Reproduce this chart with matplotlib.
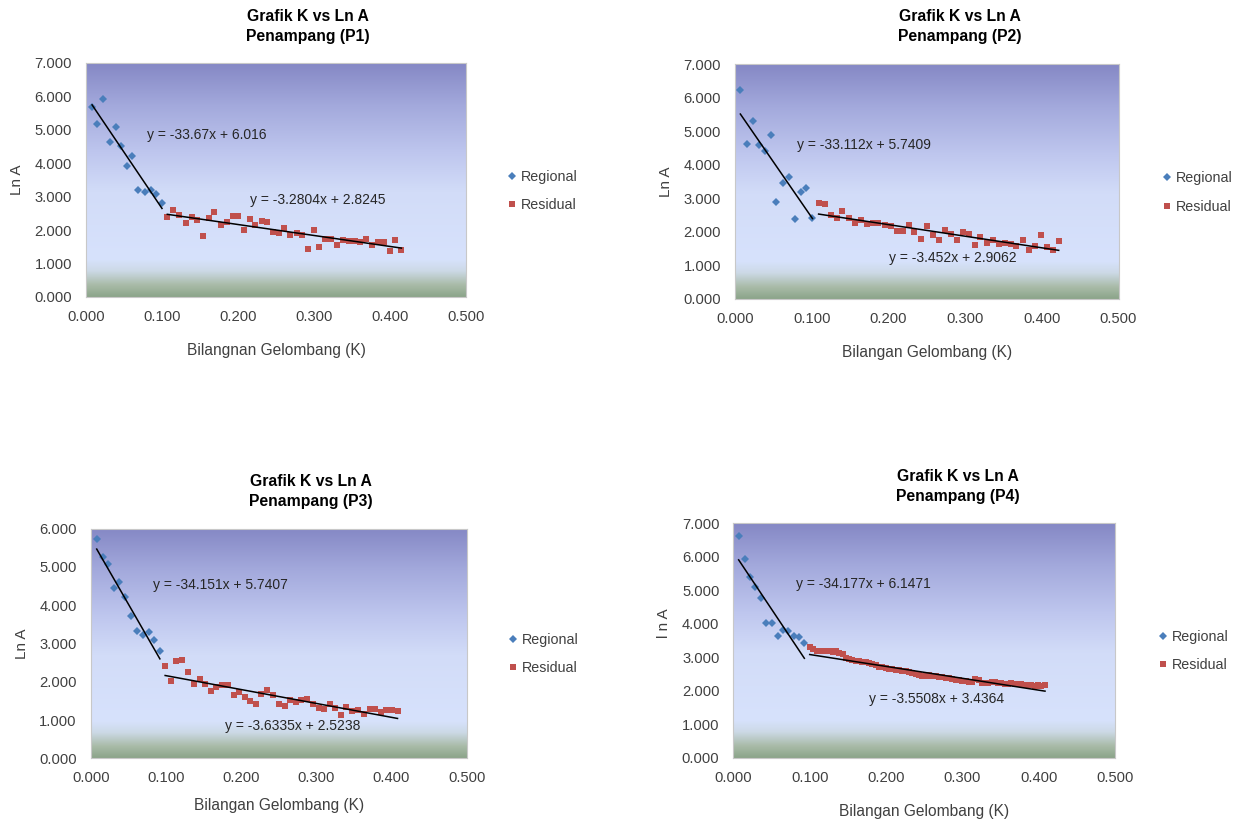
"""Plot K vs Ln A spectral analysis for four cross sections (P1-P4)."""

import matplotlib.pyplot as plt
import numpy as np
from matplotlib.colors import to_rgb

plt.rcParams["font.family"] = ["Liberation Sans", "DejaVu Sans"]

# ---- P1 -------------------------------------------------------------------
p1_reg_k = [0.008, 0.015, 0.023, 0.031, 0.039, 0.046, 0.054, 0.061, 0.069,
            0.077, 0.085, 0.092, 0.100]
p1_reg_lna = [5.68, 5.19, 5.93, 4.64, 5.09, 4.51, 3.91, 4.22, 3.19,
              3.15, 3.19, 3.09, 2.80]
p1_res_k = [0.107, 0.115, 0.123, 0.131, 0.139, 0.146, 0.154, 0.162, 0.169,
            0.177, 0.185, 0.193, 0.200, 0.208, 0.216, 0.223, 0.231, 0.238,
            0.246, 0.254, 0.261, 0.269, 0.277, 0.284, 0.292, 0.300, 0.307,
            0.315, 0.323, 0.330, 0.338, 0.346, 0.354, 0.361, 0.369, 0.376,
            0.384, 0.392, 0.400, 0.407, 0.415]
p1_res_lna = [2.40, 2.60, 2.46, 2.20, 2.38, 2.30, 1.82, 2.35, 2.55,
              2.15, 2.24, 2.41, 2.41, 2.00, 2.33, 2.14, 2.27, 2.23,
              1.94, 1.91, 2.06, 1.86, 1.91, 1.85, 1.45, 1.99, 1.49,
              1.75, 1.75, 1.55, 1.71, 1.69, 1.69, 1.65, 1.73, 1.55,
              1.65, 1.65, 1.38, 1.72, 1.42]

# ---- P2 -------------------------------------------------------------------
p2_reg_k = [0.007, 0.015, 0.023, 0.031, 0.039, 0.047, 0.054, 0.062, 0.070,
            0.078, 0.086, 0.093, 0.101]
p2_reg_lna = [6.22, 4.63, 5.30, 4.58, 4.40, 4.88, 2.89, 3.47, 3.62,
              2.37, 3.19, 3.32, 2.41]
p2_res_k = [0.109, 0.117, 0.125, 0.133, 0.140, 0.148, 0.156, 0.164, 0.172,
            0.180, 0.187, 0.195, 0.203, 0.211, 0.219, 0.227, 0.234, 0.242,
            0.250, 0.258, 0.266, 0.274, 0.281, 0.289, 0.297, 0.305, 0.313,
            0.320, 0.328, 0.336, 0.344, 0.352, 0.360, 0.367, 0.375, 0.383,
            0.391, 0.399, 0.407, 0.414, 0.422]
p2_res_lna = [2.87, 2.83, 2.49, 2.41, 2.62, 2.41, 2.26, 2.34, 2.23,
              2.26, 2.25, 2.21, 2.16, 2.04, 2.03, 2.21, 2.01, 1.80,
              2.16, 1.91, 1.76, 2.07, 1.93, 1.75, 2.00, 1.93, 1.60,
              1.86, 1.68, 1.75, 1.63, 1.66, 1.65, 1.59, 1.75, 1.45,
              1.59, 1.91, 1.55, 1.46, 1.72]

# ---- P3 -------------------------------------------------------------------
p3_reg_k = [0.008, 0.016, 0.023, 0.031, 0.038, 0.046, 0.054, 0.061, 0.069,
            0.077, 0.084, 0.092]
p3_reg_lna = [5.72, 5.25, 5.09, 4.46, 4.60, 4.22, 3.71, 3.33, 3.21,
              3.30, 3.10, 2.80]
p3_res_k = [0.099, 0.107, 0.114, 0.122, 0.129, 0.137, 0.145, 0.152, 0.160,
            0.167, 0.175, 0.182, 0.190, 0.197, 0.205, 0.212, 0.220, 0.227,
            0.235, 0.242, 0.250, 0.258, 0.265, 0.273, 0.280, 0.288, 0.295,
            0.303, 0.310, 0.318, 0.325, 0.333, 0.340, 0.348, 0.355, 0.363,
            0.371, 0.378, 0.386, 0.393, 0.401, 0.408]
p3_res_lna = [2.40, 2.02, 2.53, 2.57, 2.26, 1.95, 2.06, 1.95, 1.77,
              1.86, 1.91, 1.91, 1.66, 1.72, 1.60, 1.51, 1.43, 1.68,
              1.79, 1.65, 1.41, 1.36, 1.52, 1.46, 1.52, 1.55, 1.41,
              1.32, 1.30, 1.42, 1.32, 1.14, 1.33, 1.23, 1.26, 1.17,
              1.30, 1.28, 1.20, 1.26, 1.26, 1.24]

# ---- P4 -------------------------------------------------------------------
p4_reg_k = [0.007, 0.015, 0.022, 0.029, 0.036, 0.043, 0.051, 0.058, 0.065,
            0.072, 0.079, 0.086, 0.093]
p4_reg_lna = [6.62, 5.94, 5.40, 5.10, 4.77, 4.02, 4.01, 3.63, 3.81,
              3.78, 3.62, 3.60, 3.42]
p4_res_k = [0.100, 0.104, 0.109, 0.113, 0.117, 0.122, 0.126, 0.130, 0.135,
            0.139, 0.143, 0.148, 0.152, 0.156, 0.161, 0.165, 0.169, 0.174,
            0.178, 0.182, 0.187, 0.191, 0.195, 0.200, 0.204, 0.208, 0.213,
            0.217, 0.221, 0.226, 0.230, 0.234, 0.239, 0.243, 0.247, 0.252,
            0.256, 0.260, 0.265, 0.269, 0.273, 0.278, 0.282, 0.286, 0.291,
            0.295, 0.299, 0.304, 0.308, 0.312, 0.317, 0.321, 0.325, 0.330,
            0.334, 0.338, 0.343, 0.347, 0.351, 0.356, 0.360, 0.364, 0.369,
            0.373, 0.377, 0.382, 0.386, 0.390, 0.395, 0.399, 0.403, 0.408]
p4_res_lna = [3.30, 3.25, 3.20, 3.18, 3.20, 3.19, 3.20, 3.17, 3.18,
              3.12, 3.10, 2.98, 2.95, 2.92, 2.90, 2.90, 2.86, 2.85,
              2.84, 2.80, 2.76, 2.72, 2.70, 2.68, 2.66, 2.64, 2.62,
              2.62, 2.60, 2.58, 2.56, 2.52, 2.50, 2.46, 2.44, 2.45,
              2.46, 2.44, 2.45, 2.42, 2.40, 2.38, 2.37, 2.35, 2.33,
              2.31, 2.30, 2.28, 2.27, 2.25, 2.36, 2.32, 2.22, 2.24,
              2.24, 2.26, 2.25, 2.24, 2.22, 2.21, 2.20, 2.22, 2.20,
              2.20, 2.19, 2.18, 2.16, 2.18, 2.14, 2.17, 2.13, 2.16]

# Linear trendlines (slope, intercept) for regional / residual
reg_fits = [(-33.67, 6.016), (-33.112, 5.7409), (-34.151, 5.7407), (-34.177, 6.1471)]
res_fits = [(-3.2804, 2.8245), (-3.452, 2.9062), (-3.6335, 2.5238), (-3.5508, 3.4364)]
reg_labels = ["y = -33.67x + 6.016", "y = -33.112x + 5.7409",
              "y = -34.151x + 5.7407", "y = -34.177x + 6.1471"]
res_labels = ["y = -3.2804x + 2.8245", "y = -3.452x + 2.9062",
              "y = -3.6335x + 2.5238", "y = -3.5508x + 3.4364"]
section_names = ["P1", "P2", "P3", "P4"]
x_labels = ["Bilangnan Gelombang (K)", "Bilangan Gelombang (K)",
            "Bilangan Gelombang (K)", "Bilangan Gelombang (K)"]
y_labels = ["Ln A", "Ln A", "Ln A", "l n A"]
y_max = [7, 7, 6, 7]

FIG_W, FIG_H = 1233, 823
# pixel boxes: left, right, top, bottom
panel_boxes = [(86, 466, 63, 297), (735, 1118.5, 64, 299),
               (90.7, 466.7, 528.7, 758.3), (733.3, 1115.3, 523.3, 757.7)]
title_pos = [(308, 26.5), (960, 26.5), (311, 491.5), (958, 486.5)]
legend_pos = [(507.8, 191), (1162.8, 192.5), (508.8, 654), (1158.8, 651)]
reg_text_pos = [(0.1605, 0.692), (0.162, 0.655), (0.166, 0.755), (0.164, 0.741)]
res_text_pos = [(0.4316, 0.4145), (0.402, 0.1745), (0.357, 0.141), (0.355, 0.2505)]
ylabel_y = [0.5, 0.5, 0.5, 0.575]
xlabel_drop = [54, 53, 47, 54]

REG_COLOR = "#4A7EBB"
RES_COLOR = "#C0504D"
TEXT_COLOR = "#404040"

# Excel-like plot area fill: purple-blue top, pale blue middle, grey-green bottom
grad_stops = [0.0, 0.05, 0.11, 0.16, 0.45, 0.62, 0.82, 1.0]
grad_colors = ["#8CA58A", "#A9BBA8", "#CCD9E6", "#D7E2FC", "#D2DCF8",
               "#BEC6EE", "#A3A9DC", "#8588C5"]
levels = np.linspace(0, 1, 256)
rgb = np.array([to_rgb(c) for c in grad_colors])
gradient = np.stack([np.interp(levels, grad_stops, rgb[:, i]) for i in range(3)], axis=-1)
gradient = gradient[::-1, np.newaxis, :]

all_reg = [(p1_reg_k, p1_reg_lna), (p2_reg_k, p2_reg_lna),
           (p3_reg_k, p3_reg_lna), (p4_reg_k, p4_reg_lna)]
all_res = [(p1_res_k, p1_res_lna), (p2_res_k, p2_res_lna),
           (p3_res_k, p3_res_lna), (p4_res_k, p4_res_lna)]

fig = plt.figure(figsize=(FIG_W / 100, FIG_H / 100), dpi=100)

for i in range(4):
    left, right, top, bottom = panel_boxes[i]
    ax = fig.add_axes([left / FIG_W, 1 - bottom / FIG_H,
                       (right - left) / FIG_W, (bottom - top) / FIG_H])
    ax.imshow(gradient, extent=[0, 1, 0, 1], transform=ax.transAxes,
              aspect="auto", zorder=0)

    reg_k, reg_lna = all_reg[i]
    res_k, res_lna = all_res[i]
    ax.plot(reg_k, reg_lna, "D", color=REG_COLOR, markersize=3.8,
            markeredgewidth=0, label="Regional", zorder=3)
    ax.plot(res_k, res_lna, "s", color=RES_COLOR, markersize=5,
            markeredgewidth=0, label="Residual", zorder=3)

    # trendlines over each series' K range
    m, b = reg_fits[i]
    xs = np.array([reg_k[0], reg_k[-1]])
    ax.plot(xs, m * xs + b, color="black", lw=1.1, zorder=4)
    m, b = res_fits[i]
    xs = np.array([res_k[0], res_k[-1]])
    ax.plot(xs, m * xs + b, color="black", lw=1.1, zorder=4)

    ax.text(*reg_text_pos[i], reg_labels[i], transform=ax.transAxes,
            ha="left", va="center", fontsize=10, color="#262626", zorder=5)
    ax.text(*res_text_pos[i], res_labels[i], transform=ax.transAxes,
            ha="left", va="center", fontsize=10, color="#262626", zorder=5)

    ax.set_xlim(0, 0.5)
    ax.set_ylim(0, y_max[i])
    ax.set_xticks(np.arange(0, 0.51, 0.1))
    ax.set_yticks(np.arange(0, y_max[i] + 0.5, 1))
    ax.xaxis.set_major_formatter("{x:.3f}")
    ax.yaxis.set_major_formatter("{x:.3f}")
    ax.tick_params(axis="both", length=0, labelsize=10.6, colors=TEXT_COLOR)
    ax.tick_params(axis="x", pad=9.5)
    ax.tick_params(axis="y", pad=10)
    for spine in ax.spines.values():
        spine.set_color("#C8C8C8")
        spine.set_linewidth(0.8)

    height_px = bottom - top
    ax.set_xlabel(x_labels[i], fontsize=11.2, color=TEXT_COLOR, va="center")
    ax.xaxis.set_label_coords(0.5, -xlabel_drop[i] / height_px)
    ax.set_ylabel(y_labels[i], fontsize=11, color=TEXT_COLOR, va="center")
    ax.yaxis.set_label_coords(-69 / (right - left), ylabel_y[i])

    tx, ty = title_pos[i]
    fig.text(tx / FIG_W, 1 - ty / FIG_H,
             f"Grafik K vs Ln A\nPenampang ({section_names[i]})",
             ha="center", va="center", fontsize=11.3, fontweight="bold",
             linespacing=1.38)

    lx, ly = legend_pos[i]
    ax.legend(loc="center left", bbox_to_anchor=(lx / FIG_W, 1 - ly / FIG_H),
              bbox_transform=fig.transFigure, frameon=False, fontsize=10.3,
              borderpad=0, borderaxespad=0, handlelength=0.6,
              handletextpad=0.3, labelspacing=1.0, labelcolor=TEXT_COLOR)

fig.savefig("out.png", dpi=100)
